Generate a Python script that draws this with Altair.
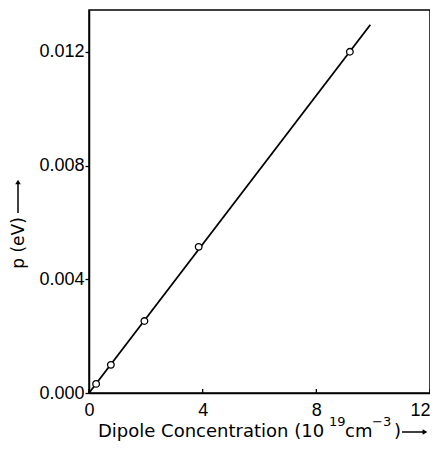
import altair as alt
import pandas as pd

# Data
conc = [0.25, 0.77, 1.95, 3.86, 9.18]          # dipole concentration (10^19 cm^-3)
pvals = [0.00032, 0.00099, 0.00253, 0.00514, 0.01200]  # p (eV)
fit_conc = [0.0, 9.9]
fit_p = [0.0, 0.01295]
x_ticks = [0, 4, 8, 12]
y_ticks = [0.000, 0.004, 0.008, 0.012]

pts = pd.DataFrame({"x": conc, "y": pvals})
fit = pd.DataFrame({"x": fit_conc, "y": fit_p})
xt = pd.DataFrame({"x": x_ticks})
one = pd.DataFrame({"a": [0]})

W, H = 341, 383
FONT = "Liberation Sans"
TFONT = "DejaVu Sans"

xs = alt.Scale(domain=[0, 12], nice=False, zero=False)
ys = alt.Scale(domain=[0, 0.01347], nice=False, zero=False)

xaxis = alt.Axis(values=x_ticks, format="d", ticks=False, labelPadding=8, title=None,
                 grid=False, domainColor="black", domainWidth=1.5, labelFlush=False,
                 labelAlign=alt.ExprRef(expr="datum.value == 12 ? 'right' : 'center'"))
yaxis = alt.Axis(values=y_ticks, format=".3f", tickSize=4, tickColor="black", tickWidth=1.3,
                 labelPadding=1, title=None, grid=False, domainColor="black", domainWidth=1.5)

line = alt.Chart(fit).mark_line(color="black", strokeWidth=1.8).encode(
    x=alt.X("x:Q", scale=xs, axis=xaxis),
    y=alt.Y("y:Q", scale=ys, axis=yaxis),
)

points = alt.Chart(pts).mark_point(
    shape="circle", size=44, stroke="black", fill="white", fillOpacity=1,
    strokeWidth=1.3, opacity=1
).encode(x="x:Q", y="y:Q")

xtick_marks = alt.Chart(xt).mark_rule(color="black", strokeWidth=1.3).encode(
    x="x:Q", y=alt.value(H - 4), y2=alt.value(H)
)


def txt(s, x, y, size=18, align="left", baseline="alphabetic", angle=0):
    kw = dict(align=align, baseline=baseline, font=TFONT, fontSize=size, color="black")
    if angle:
        kw["angle"] = angle
    return alt.Chart(one).mark_text(**kw).encode(
        x=alt.value(x), y=alt.value(y), text=alt.value(s)
    )


BASE = 427
SUP = 416
title_parts = [
    txt("Dipole Concentration (10", 9, BASE),
    txt("19", 240, SUP, size=13),
    txt("cm", 256, BASE),
    txt("\u22123", 283, SUP, size=13),
    txt(")", 305, BASE),
    txt("p (eV)", -70, 233, size=17, align="center", baseline="middle", angle=270),
]

x_arrow = alt.Chart(one).mark_rule(color="black", strokeWidth=1.5).encode(
    x=alt.value(313), x2=alt.value(334), y=alt.value(BASE - 5)
)
x_head = alt.Chart(one).mark_point(shape="triangle-right", filled=True, size=30,
                                   color="black", opacity=1).encode(
    x=alt.value(336), y=alt.value(BASE - 5)
)
y_arrow = alt.Chart(one).mark_rule(color="black", strokeWidth=1.5).encode(
    x=alt.value(-71), y=alt.value(203), y2=alt.value(174)
)
y_head = alt.Chart(one).mark_point(shape="triangle-up", filled=True, size=30,
                                   color="black", opacity=1).encode(
    x=alt.value(-71), y=alt.value(172)
)

chart = alt.layer(
    line, points, xtick_marks, *title_parts, x_arrow, x_head, y_arrow, y_head
).properties(
    width=W, height=H,
    padding={"left": 81, "top": 2, "right": 0, "bottom": 48},
    autosize=alt.AutoSizeParams(type="none"),
).configure_view(
    stroke="black", strokeWidth=1.5
).configure_axis(
    labelFont=FONT, labelFontSize=18, labelColor="black"
)

chart.save("out.html", embed_options={"renderer": "svg", "actions": False})
